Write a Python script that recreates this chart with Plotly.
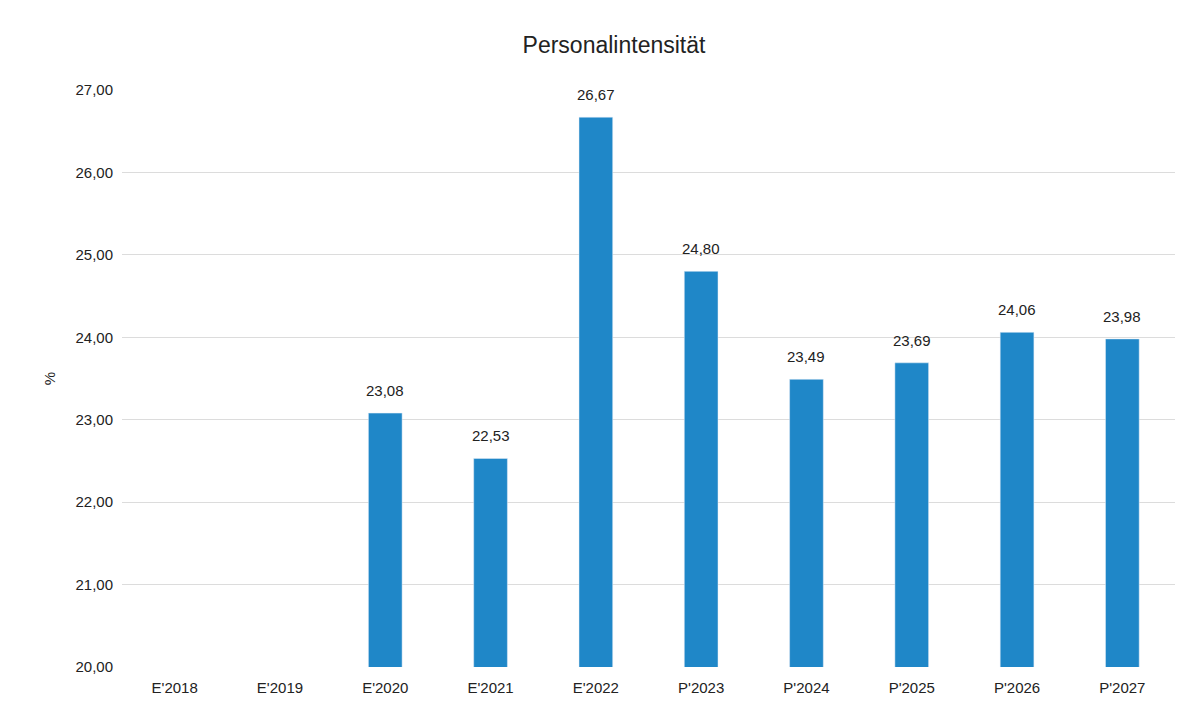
import plotly.graph_objects as go

categories = ["E'2018", "E'2019", "E'2020", "E'2021", "E'2022", "P'2023", "P'2024", "P'2025", "P'2026", "P'2027"]
values = [None, None, 23.08, 22.53, 26.67, 24.80, 23.49, 23.69, 24.06, 23.98]
y_ticks = [20, 21, 22, 23, 24, 25, 26, 27]

labels = ["" if v is None else f"{v:.2f}".replace(".", ",") for v in values]
FONT = "Liberation Sans, Arial"

fig = go.Figure(go.Bar(
    x=categories, y=values,
    marker=dict(color="#1f87c8"), width=0.32,
))

for c, v, t in zip(categories, values, labels):
    if v is None:
        continue
    fig.add_annotation(x=c, y=v, text=t, showarrow=False, yanchor="bottom", yshift=12,
                       font=dict(size=15, color="#222222", family=FONT))

fig.update_layout(
    width=1200, height=708,
    paper_bgcolor="white", plot_bgcolor="white",
    separators=", ",
    title=dict(text="Personalintensität", x=0.505, xanchor="center", y=0.948, yanchor="middle",
               font=dict(size=23, color="#222222", family=FONT)),
    margin=dict(l=114, r=33, t=82, b=49),
    font=dict(family=FONT, size=15, color="#222222"),
    showlegend=False,
)
fig.update_yaxes(range=[20, 27], tickvals=y_ticks, tickformat=".2f",
                 showgrid=True, gridcolor="#dcdcdc", gridwidth=1, zeroline=False,
                 ticks="", showline=False, ticklabelstandoff=8,
                 title=dict(text="%", standoff=16, font=dict(size=15)))
fig.update_xaxes(showline=False, ticks="", tickfont=dict(size=15), ticklabelstandoff=10)

fig.write_html("out.html")
